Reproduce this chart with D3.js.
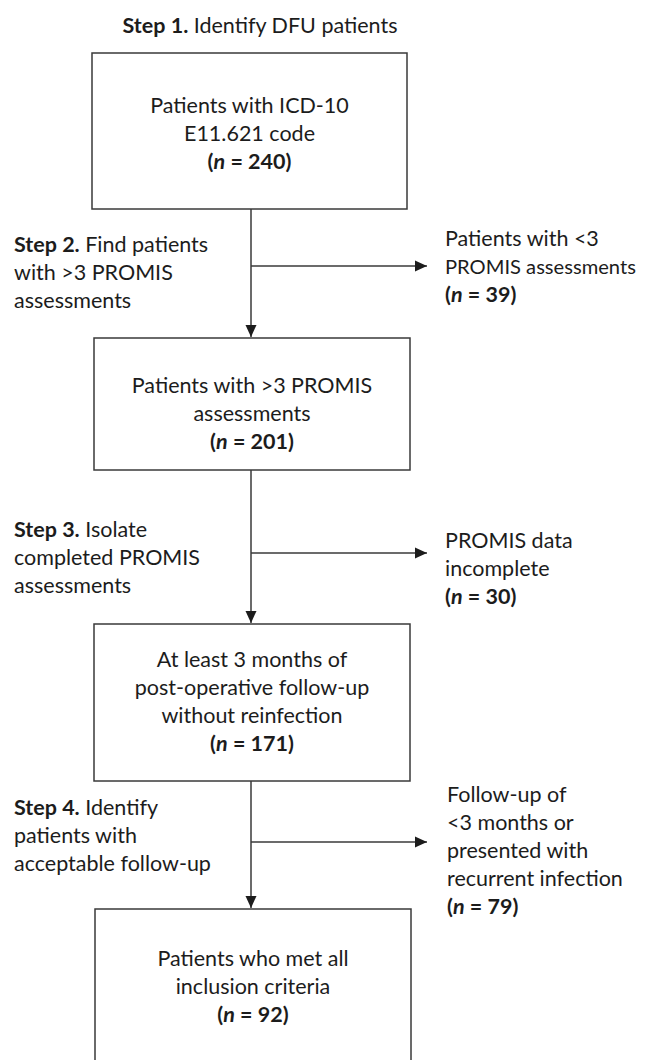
<!DOCTYPE html>
<html>
<head>
<meta charset="utf-8">
<script src="https://cdn.jsdelivr.net/npm/d3@7"></script>
<style>
  html, body { margin: 0; padding: 0; background: #fff; }
  svg { display: block; }
  text { font-family: Lato, "Open Sans", sans-serif; fill: #1c1c1c; }
</style>
</head>
<body>
<svg id="chart" width="647" height="1060"></svg>
<script>
// ---- data ----
const stepNames = ["Step 1.", "Step 2.", "Step 3.", "Step 4."];
const stepDescs = [
  ["Identify DFU patients"],
  ["Find patients", "with >3 PROMIS", "assessments"],
  ["Isolate", "completed PROMIS", "assessments"],
  ["Identify", "patients with", "acceptable follow-up"]
];
const boxLabels = [
  ["Patients with ICD-10", "E11.621 code"],
  ["Patients with >3 PROMIS", "assessments"],
  ["At least 3 months of", "post-operative follow-up", "without reinfection"],
  ["Patients who met all", "inclusion criteria"]
];
const boxCounts = [240, 201, 171, 92];
const exclLabels = [
  ["Patients with <3", "PROMIS assessments"],
  ["PROMIS data", "incomplete"],
  ["Follow-up of", "<3 months or", "presented with", "recurrent infection"]
];
const exclCounts = [39, 30, 79];

// ---- layout ----
const svg = d3.select("#chart");
const fs = 21.5;
const lineH = 28;
const stroke = "#3a3a3a";
const maxRight = 636;
const boxes = [
  { x0: 92, x1: 407, y0: 53, y1: 209, base: 113 },
  { x0: 94, x1: 410, y0: 338, y1: 470, base: 393 },
  { x0: 94, x1: 410, y0: 624, y1: 781, base: 667 },
  { x0: 95, x1: 411, y0: 909, y1: 1090, base: 966 }
];
const flowX = 251;
const exclY = [266, 553, 842];
const exclTipX = 427;
const stepBase = [252, 537, 815];
const exclBase = [246, 548, 802];
const exclX = [445, 445, 447];

const defs = svg.append("defs");
defs.append("marker")
  .attr("id", "ah")
  .attr("viewBox", "0 0 12 12")
  .attr("refX", 12).attr("refY", 6)
  .attr("markerWidth", 12).attr("markerHeight", 12)
  .attr("markerUnits", "userSpaceOnUse")
  .attr("orient", "auto")
  .append("path")
  .attr("d", "M0,0.5 L12,6 L0,11.5 Z")
  .attr("fill", "#1c1c1c");

function countLine(sel, n) {
  sel.append("tspan").attr("font-weight", 700).text("(");
  sel.append("tspan").attr("font-weight", 700).attr("font-style", "italic").text("n");
  sel.append("tspan").attr("font-weight", 700).text(" = " + n + ")");
}

// Title (Step 1)
const title = svg.append("text")
  .attr("x", 260).attr("y", 33)
  .attr("text-anchor", "middle")
  .attr("font-size", fs);
title.append("tspan").attr("font-weight", 700).text(stepNames[0]);
title.append("tspan").text(" " + stepDescs[0][0]);

// Boxes
boxes.forEach((b, i) => {
  svg.append("rect")
    .attr("x", b.x0).attr("y", b.y0)
    .attr("width", b.x1 - b.x0).attr("height", b.y1 - b.y0)
    .attr("fill", "none").attr("stroke", stroke).attr("stroke-width", 1.5);
  const cx = (b.x0 + b.x1) / 2;
  boxLabels[i].forEach((l, j) => {
    svg.append("text")
      .attr("x", cx).attr("y", b.base + j * lineH)
      .attr("text-anchor", "middle").attr("font-size", fs)
      .text(l);
  });
  const ct = svg.append("text")
    .attr("x", cx).attr("y", b.base + boxLabels[i].length * lineH)
    .attr("text-anchor", "middle").attr("font-size", fs);
  countLine(ct, boxCounts[i]);
});

// Vertical arrows between boxes
for (let i = 0; i < boxes.length - 1; i++) {
  svg.append("line")
    .attr("x1", flowX).attr("y1", boxes[i].y1)
    .attr("x2", flowX).attr("y2", boxes[i + 1].y0 - 1)
    .attr("stroke", stroke).attr("stroke-width", 1.5)
    .attr("marker-end", "url(#ah)");
}

// Horizontal exclusion arrows
exclY.forEach((y, i) => {
  svg.append("line")
    .attr("x1", flowX).attr("y1", y)
    .attr("x2", exclTipX).attr("y2", y)
    .attr("stroke", stroke).attr("stroke-width", 1.3)
    .attr("marker-end", "url(#ah)");
});

// Step labels (left)
stepBase.forEach((y0, k) => {
  const i = k + 1;
  stepDescs[i].forEach((l, j) => {
    const t = svg.append("text")
      .attr("x", 14).attr("y", y0 + j * lineH)
      .attr("font-size", fs);
    if (j === 0) {
      t.append("tspan").attr("font-weight", 700).text(stepNames[i]);
      t.append("tspan").text(" " + l);
    } else {
      t.text(l);
    }
  });
});

// Exclusion labels (right)
exclBase.forEach((y0, i) => {
  exclLabels[i].forEach((l, j) => {
    const t = svg.append("text")
      .attr("x", exclX[i]).attr("y", y0 + j * lineH)
      .attr("font-size", fs)
      .text(l);
    const w = t.node().getComputedTextLength();
    if (exclX[i] + w > maxRight) {
      t.attr("font-size", fs * (maxRight - exclX[i]) / w);
    }
  });
  const ct = svg.append("text")
    .attr("x", exclX[i]).attr("y", y0 + exclLabels[i].length * lineH)
    .attr("font-size", fs);
  countLine(ct, exclCounts[i]);
});
</script>
</body>
</html>
